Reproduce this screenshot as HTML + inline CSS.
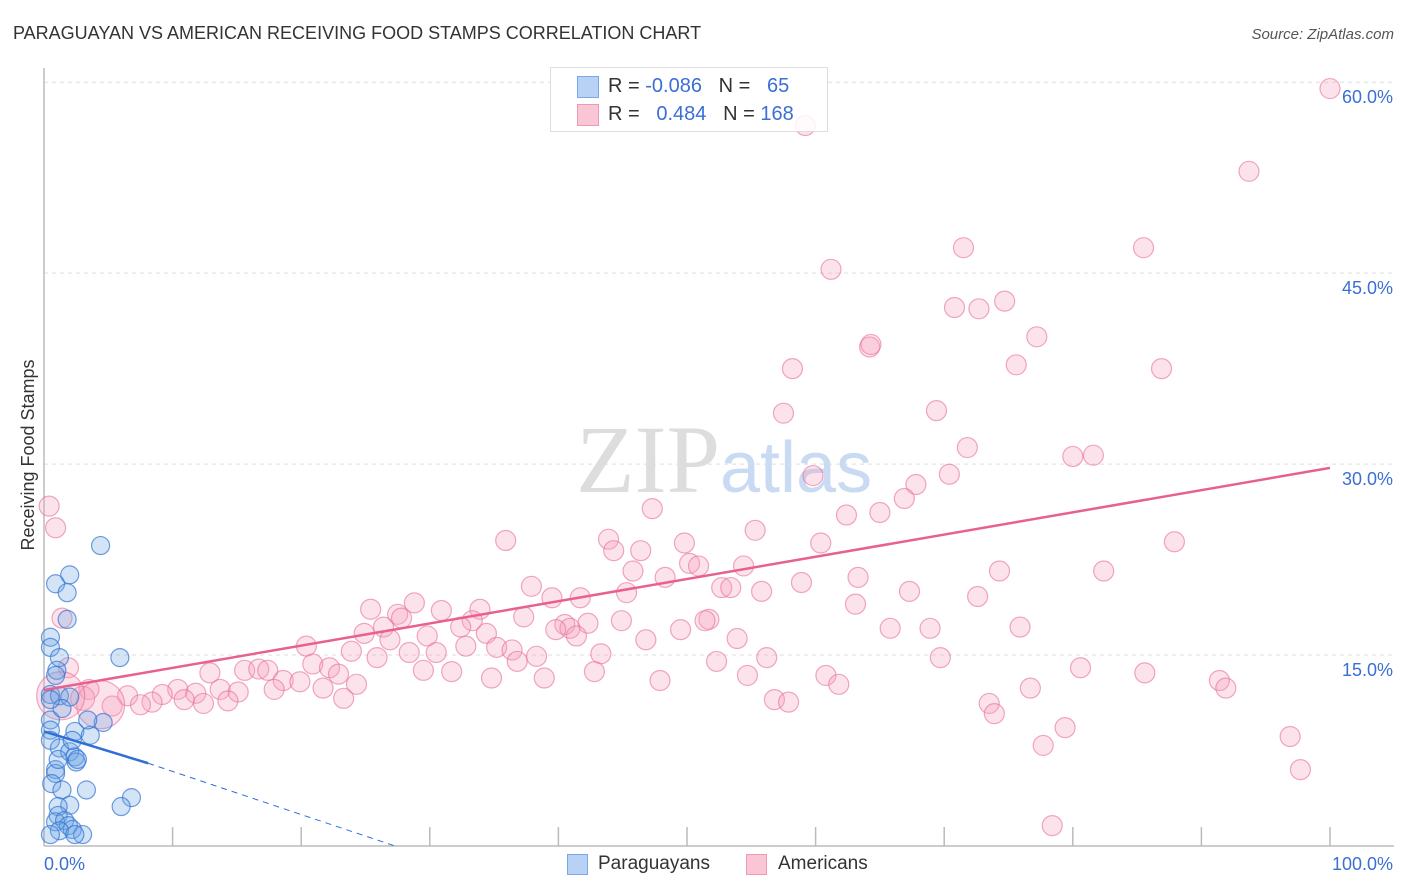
<!DOCTYPE html>
<html><head><meta charset="utf-8">
<style>
body{margin:0;background:#fff;font-family:"Liberation Sans",sans-serif;}
#wrap{position:relative;width:1406px;height:892px;overflow:hidden;}
</style></head>
<body>
<div id="wrap">
<svg id="svg" width="1406" height="892">
<text x="13" y="39" font-size="18" fill="#333">PARAGUAYAN VS AMERICAN RECEIVING FOOD STAMPS CORRELATION CHART</text>
<text x="1394" y="39" font-size="15" fill="#555" font-style="italic" text-anchor="end">Source: ZipAtlas.com</text>
<text x="720" y="492" font-size="96" fill="#ddd" font-family="Liberation Serif" text-anchor="end">ZIP</text>
<text x="720" y="492" font-size="72" fill="#c9daf3">atlas</text>
<text transform="translate(34,455) rotate(-90)" font-size="18" fill="#333" text-anchor="middle">Receiving Food Stamps</text>
<g id="grid"></g><g id="marks"></g>
</svg>
<div style="position:absolute;left:550px;top:67px;width:276px;height:63px;border:1px solid #ddd;background:rgba(255,255,255,0.85);font-size:20px;">
 <div style="position:absolute;left:26px;top:8px;width:20px;height:20px;background:#b7d2f5;border:1px solid #7aa7e6;"></div>
 <div style="position:absolute;left:57px;top:7px;color:#333;">R = <span style="color:#3b6fd4">-0.086</span>&nbsp;&nbsp;&nbsp;N = &nbsp;&nbsp;<span style="color:#3b6fd4">65</span></div>
 <div style="position:absolute;left:26px;top:36px;width:20px;height:20px;background:#fac6d6;border:1px solid #ee9ab5;"></div>
 <div style="position:absolute;left:57px;top:35px;color:#333;">R = &nbsp;&nbsp;<span style="color:#3b6fd4">0.484</span>&nbsp;&nbsp;&nbsp;N = <span style="color:#3b6fd4">168</span></div>
</div>
<div style="position:absolute;left:567px;top:854px;width:19px;height:19px;background:#b7d2f5;border:1px solid #7aa7e6;"></div>
<div style="position:absolute;left:598px;top:853px;font-size:19px;color:#333;">Paraguayans</div>
<div style="position:absolute;left:746px;top:854px;width:19px;height:19px;background:#fac6d6;border:1px solid #ee9ab5;"></div>
<div style="position:absolute;left:778px;top:853px;font-size:19px;color:#333;">Americans</div>
</div>
<script>
const yTicks=[15,30,45,60];
const yTickLabels=["15.0%","30.0%","45.0%","60.0%"];
const xTicks=[0,10,20,30,40,50,60,70,80,90,100];
const pinkX=[100,59.2,93.7,71.5,85.5,61.2,74.7,70.8,72.7,77.2,64.2,64.3,58.2,75.6,86.9,57.5,69.4,71.8,80.0,81.6,59.8,70.4,67.8,66.9,47.3,62.4,65.0,55.3,35.9,43.9,49.8,60.4,87.9,44.3,46.4,50.2,50.9,54.4,45.8,48.3,74.3,82.4,63.3,58.9,37.9,52.7,53.4,45.3,67.3,55.8,39.5,41.7,72.6,63.1,28.8,25.4,30.9,33.9,27.5,27.8,37.3,51.7,51.4,33.3,44.9,42.3,40.5,40.9,32.4,26.4,39.8,41.4,65.8,68.9,75.9,24.9,34.4,49.5,26.9,29.8,53.9,20.4,46.8,32.8,35.2,36.4,28.4,30.5,23.9,43.3,38.3,56.2,52.3,25.9,36.8,20.9,69.7,80.6,22.2,29.5,31.7,15.6,12.9,16.7,17.4,22.9,42.8,54.7,60.8,85.6,34.8,38.9,18.6,19.9,47.9,91.4,24.3,61.8,21.7,91.9,76.7,13.7,17.9,10.4,15.1,11.8,9.2,6.5,23.3,14.3,10.9,12.4,8.4,56.8,57.9,73.5,5.3,7.5,73.9,79.4,96.9,77.7,97.7,78.4,0.4,0.9,1.4,1.9,3.5,3.0,4.4,1.3];
const pinkY=[59.5,56.6,53.0,47.0,47.0,45.3,42.8,42.3,42.2,40.0,39.2,39.4,37.5,37.8,37.5,34.0,34.2,31.3,30.6,30.7,29.1,29.2,28.4,27.3,26.5,26.0,26.2,24.8,24.0,24.1,23.8,23.8,23.9,23.2,23.2,22.2,22.0,22.0,21.6,21.1,21.6,21.6,21.1,20.7,20.4,20.3,20.3,19.9,20.0,20.0,19.5,19.5,19.6,19.0,19.1,18.6,18.5,18.6,18.2,17.9,18.0,17.8,17.7,17.7,17.7,17.5,17.4,17.1,17.2,17.2,17.0,16.5,17.1,17.1,17.2,16.7,16.7,17.0,16.2,16.5,16.3,15.7,16.2,15.7,15.6,15.4,15.2,15.2,15.3,15.1,14.9,14.8,14.5,14.8,14.5,14.3,14.8,14.0,14.0,13.8,13.7,13.8,13.6,13.9,13.8,13.5,13.7,13.4,13.4,13.6,13.2,13.2,13.0,12.9,13.0,13.0,12.7,12.7,12.4,12.4,12.4,12.3,12.3,12.3,12.1,12.0,11.9,11.8,11.6,11.4,11.5,11.2,11.3,11.5,11.3,11.2,11.0,11.1,10.4,9.3,8.6,7.9,6.0,1.6,26.7,25.0,17.9,14.0,12.3,11.6,11.1,11.8];
const pinkR=[10,10,10,10,10,10,10,10,10,10,10,10,10,10,10,10,10,10,10,10,10,10,10,10,10,10,10,10,10,10,10,10,10,10,10,10,10,10,10,10,10,10,10,10,10,10,10,10,10,10,10,10,10,10,10,10,10,10,10,10,10,10,10,10,10,10,10,10,10,10,10,10,10,10,10,10,10,10,10,10,10,10,10,10,10,10,10,10,10,10,10,10,10,10,10,10,10,10,10,10,10,10,10,10,10,10,10,10,10,10,10,10,10,10,10,10,10,10,10,10,10,10,10,10,10,10,10,10,10,10,10,10,10,10,10,10,10,10,10,10,10,10,10,10,10,10,10,10,10,12,24,24,18,14];
const blueX=[4.4,2.0,0.9,1.8,1.8,0.5,5.9,0.5,1.2,1.0,0.9,0.5,1.2,2.0,4.6,0.5,0.5,2.4,3.6,0.5,1.2,2.0,2.4,2.5,0.9,0.9,0.6,1.4,3.3,6.8,6.0,2.0,1.1,1.1,0.9,1.6,1.9,2.2,1.2,3.0,2.4,0.5,3.4,2.2,2.6,1.1,1.4,0.5];
const blueY=[23.6,21.3,20.6,19.9,17.8,16.4,14.8,15.6,14.8,13.8,13.4,11.9,11.8,11.7,9.7,9.9,9.1,9.0,8.7,8.3,7.7,7.4,7.0,6.6,6.0,5.7,4.9,4.4,4.4,3.8,3.1,3.2,3.1,2.4,1.9,2.0,1.6,1.3,1.2,0.9,0.9,0.9,9.9,8.3,6.8,6.8,10.8,11.5];
const pinkTrend=[[0,12.25],[100,29.7]];
const blueTrendSolid=[[0,9.0],[8.1,6.5]];
const blueTrendDash=[[8.1,6.5],[27.3,0]];
const X=v=>44+v*12.86, Y=v=>846-v*12.73;
const NS="http://www.w3.org/2000/svg";
const grid=document.getElementById('grid'), marks=document.getElementById('marks');
function mk(tag,attrs,parent){const e=document.createElementNS(NS,tag);for(const k in attrs)e.setAttribute(k,attrs[k]);parent.appendChild(e);return e;}
yTicks.forEach((t,i)=>{
 const l=mk('line',{x1:44,x2:1394,y1:Y(t),y2:Y(t),stroke:'#ddd','stroke-dasharray':'4,4'},grid);
 
 
 const tx=mk('text',{x:1393,y:Y(t)+21,'font-size':18,fill:'#3b6fd4','text-anchor':'end'},grid);
 tx.textContent=yTickLabels[i];
 
 
});
xTicks.forEach(t=>{
 if(t===0)return;
 const l=mk('line',{x1:X(t),x2:X(t),y1:827,y2:846,stroke:'#bbb','stroke-width':1.5},grid);
 
 
});
let ax=mk('line',{x1:44,x2:44,y1:68,y2:846,stroke:'#bbb','stroke-width':1.5},grid);


ax=mk('line',{x1:44,x2:1394,y1:846,y2:846,stroke:'#bbb','stroke-width':1.5},grid);


let t0=mk('text',{x:44,y:870,'font-size':18,fill:'#3b6fd4'},grid);t0.textContent='0.0%';


t0=mk('text',{x:1393,y:870,'font-size':18,fill:'#3b6fd4','text-anchor':'end'},grid);t0.textContent='100.0%';


pinkX.forEach((v,i)=>{
 const c=mk('circle',{cx:X(v),cy:Y(pinkY[i]),r:pinkR[i]||10,fill:'rgba(246,160,188,0.3)',stroke:'rgba(232,110,150,0.6)','stroke-width':1.2},marks);
 
 
});
blueX.forEach((v,i)=>{
 const c=mk('circle',{cx:X(v),cy:Y(blueY[i]),r:9,fill:'rgba(110,165,230,0.3)',stroke:'rgba(50,115,210,0.7)','stroke-width':1.2},marks);
 
 
});
function seg(p,attrs,name){const l=mk('line',Object.assign({x1:X(p[0][0]),y1:Y(p[0][1]),x2:X(p[1][0]),y2:Y(p[1][1])},attrs),marks);
 
 }
seg(pinkTrend,{stroke:'#e8608f','stroke-width':2.5},'american-trendline');
seg(blueTrendSolid,{stroke:'#2f6fd6','stroke-width':2.5},'paraguayan-trendline');
seg(blueTrendDash,{stroke:'#2f6fd6','stroke-width':1,'stroke-dasharray':'6,5'},'paraguayan-trendline-extension');
</script>
</body></html>
